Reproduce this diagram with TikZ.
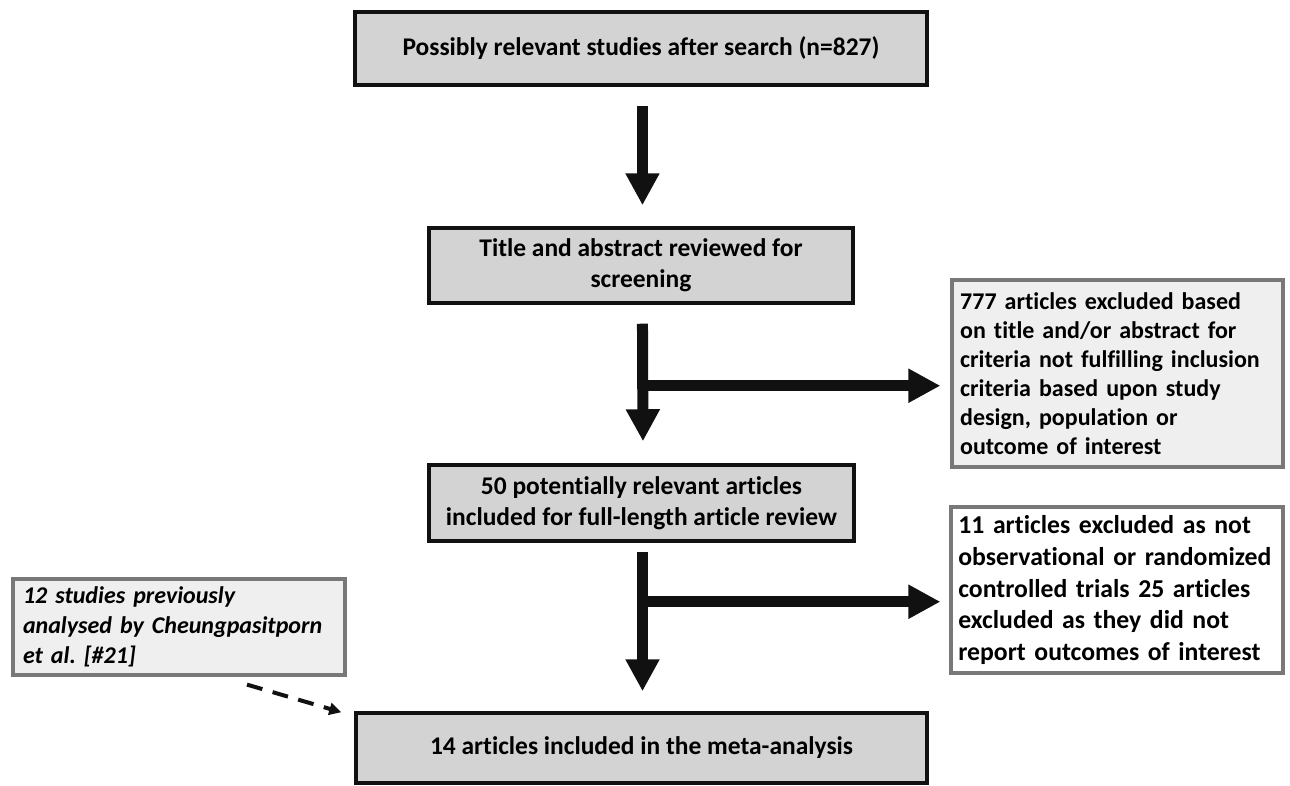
\documentclass[tikz,border=0pt]{standalone}
\usepackage{fontspec}
\setmainfont{Carlito}[Ligatures={NoCommon}]
\frenchspacing
\usetikzlibrary{arrows.meta}
\definecolor{boxgray}{HTML}{D3D3D3}
\definecolor{paleshade}{HTML}{EFEFEF}
\definecolor{edgegray}{HTML}{787878}
\definecolor{inkblack}{HTML}{111111}
\tikzset{
  mainbox/.style={draw=inkblack, line width=2.6pt, fill=boxgray, inner sep=0pt, align=center,
    font=\bfseries\fontsize{19.1pt}{23pt}\selectfont},
  sidebox/.style={draw=edgegray, line width=2.4pt, fill=paleshade, inner sep=0pt, align=left,
    font=\bfseries\fontsize{18pt}{21.75pt}\selectfont},
  bigarrow/.style={draw=inkblack, line width=8.25pt, -{Triangle[length=24pt,width=24pt]}},
  dasharrow/.style={draw=inkblack, line width=3pt, dash pattern=on 12pt off 8pt, -{Triangle[length=9pt,width=9pt]}}
}
\begin{document}
\begin{tikzpicture}[x=0.75pt,y=-0.75pt]
\useasboundingbox (0,0) rectangle (1290,786);
% main column
\node[mainbox, minimum width=429pt, minimum height=54.75pt] (box1) at (641,48.5)
  {Possibly relevant studies after search (n=827)};
\node[mainbox, minimum width=318pt, minimum height=56.25pt] (box2) at (641,265.5)
  {Title and abstract reviewed for\\screening};
\node[mainbox, minimum width=318.75pt, minimum height=57pt] (box4) at (641.5,503)
  {50 potentially relevant articles\\included for full-length article review};
\node[mainbox, minimum width=428.25pt, minimum height=52.5pt] (final) at (641.5,748)
  {14 articles included in the meta-analysis};
% side boxes
\node[sidebox, minimum width=248.25pt, minimum height=140.25pt, text width=236pt] (ex1) at (1117.5,373.5)
  {\mbox{777 articles excluded based}\\\mbox{on title and/or abstract for}\\\mbox{criteria not fulfilling inclusion}\\\mbox{criteria based upon study}\\\mbox{design, population or}\\\mbox{outcome of interest}};
\node[sidebox, fill=white, minimum width=249pt, minimum height=124.5pt, text width=238pt,
  font=\bfseries\fontsize{19.3pt}{23.8pt}\selectfont] (ex2) at (1117,590)
  {\mbox{11 articles excluded as not}\\\mbox{observational or randomized}\\\mbox{controlled trials 25 articles}\\\mbox{excluded as they did not}\\\mbox{report outcomes of interest}};
\node[sidebox, minimum width=249pt, minimum height=72pt, text width=234pt,
  font=\bfseries\itshape\fontsize{18pt}{22.5pt}\selectfont] (prev) at (179,627)
  {\mbox{12 studies previously}\\\mbox{analysed by Cheungpasitporn}\\\mbox{et al. [\#21]}};
% connectors
\draw[bigarrow] ([xshift=1.1pt,yshift=-14.25pt]box1.south) -- ([xshift=1.1pt,yshift=15.75pt]box2.north);
\draw[bigarrow] ([xshift=1.1pt,yshift=-14.25pt]box2.south) -- ([xshift=1.1pt,yshift=16.5pt]box4.north);
\coordinate (j1) at ([xshift=1.1pt,yshift=-60.75pt]box2.south);
\coordinate (e1) at ([xshift=-7.5pt]ex1.west);
\draw[bigarrow] (j1) -- (j1 -| e1);
\draw[bigarrow] ([xshift=0.75pt,yshift=-6.75pt]box4.south) -- ([xshift=0.75pt,yshift=15pt]final.north);
\coordinate (j2) at ([xshift=0.75pt,yshift=-44.25pt]box4.south);
\coordinate (e2) at ([xshift=-6.75pt]ex2.west);
\draw[bigarrow] (j2) -- (j2 -| e2);
\draw[dasharrow] ([xshift=51pt,yshift=-6pt]prev.south) -- ([xshift=-9.75pt,yshift=-0.75pt]final.north west);
\end{tikzpicture}
\end{document}
